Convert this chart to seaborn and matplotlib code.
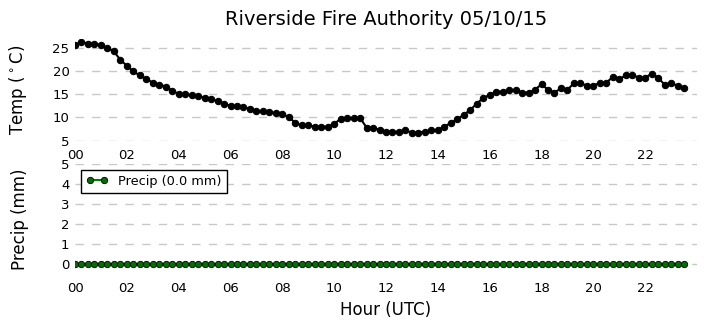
import matplotlib
matplotlib.use("Agg")
import matplotlib.pyplot as plt
import seaborn as sns
import pandas as pd

# ---- data ----
hours = [
    0.00, 0.25, 0.50, 0.75, 1.00, 1.25, 1.50, 1.75, 2.00, 2.25, 2.50, 2.75,
    3.00, 3.25, 3.50, 3.75, 4.00, 4.25, 4.50, 4.75, 5.00, 5.25, 5.50, 5.75,
    6.00, 6.25, 6.50, 6.75, 7.00, 7.25, 7.50, 7.75, 8.00, 8.25, 8.50, 8.75,
    9.00, 9.25, 9.50, 9.75, 10.00, 10.25, 10.50, 10.75, 11.00, 11.25, 11.50, 11.75,
    12.00, 12.25, 12.50, 12.75, 13.00, 13.25, 13.50, 13.75, 14.00, 14.25, 14.50, 14.75,
    15.00, 15.25, 15.50, 15.75, 16.00, 16.25, 16.50, 16.75, 17.00, 17.25, 17.50, 17.75,
    18.00, 18.25, 18.50, 18.75, 19.00, 19.25, 19.50, 19.75, 20.00, 20.25, 20.50, 20.75,
    21.00, 21.25, 21.50, 21.75, 22.00, 22.25, 22.50, 22.75, 23.00, 23.25, 23.50,
]
temp_c = [
    25.7, 26.4, 26.0, 26.0, 25.7, 25.0, 24.3, 22.5, 21.2, 20.0, 19.1, 18.4,
    17.5, 17.1, 16.7, 15.8, 15.1, 15.1, 14.8, 14.6, 14.3, 13.9, 13.6, 13.0,
    12.5, 12.5, 12.3, 11.8, 11.5, 11.3, 11.1, 11.0, 10.7, 10.1, 8.8, 8.3,
    8.3, 8.0, 8.0, 8.0, 8.6, 9.7, 9.9, 9.9, 9.9, 7.8, 7.8, 7.3,
    6.9, 6.9, 6.9, 7.2, 6.7, 6.7, 6.9, 7.2, 7.3, 8.0, 8.8, 9.6,
    10.6, 11.6, 13.0, 14.2, 14.9, 15.6, 15.6, 15.9, 16.0, 15.4, 15.4, 16.0,
    17.2, 16.0, 15.4, 16.3, 16.0, 17.4, 17.4, 16.9, 16.9, 17.5, 17.5, 18.8,
    18.3, 19.1, 19.3, 18.6, 18.6, 19.5, 18.6, 17.1, 17.4, 16.9, 16.4,
]
precip_mm = [
    0.0, 0.0, 0.0, 0.0, 0.0, 0.0, 0.0, 0.0, 0.0, 0.0, 0.0, 0.0,
    0.0, 0.0, 0.0, 0.0, 0.0, 0.0, 0.0, 0.0, 0.0, 0.0, 0.0, 0.0,
    0.0, 0.0, 0.0, 0.0, 0.0, 0.0, 0.0, 0.0, 0.0, 0.0, 0.0, 0.0,
    0.0, 0.0, 0.0, 0.0, 0.0, 0.0, 0.0, 0.0, 0.0, 0.0, 0.0, 0.0,
    0.0, 0.0, 0.0, 0.0, 0.0, 0.0, 0.0, 0.0, 0.0, 0.0, 0.0, 0.0,
    0.0, 0.0, 0.0, 0.0, 0.0, 0.0, 0.0, 0.0, 0.0, 0.0, 0.0, 0.0,
    0.0, 0.0, 0.0, 0.0, 0.0, 0.0, 0.0, 0.0, 0.0, 0.0, 0.0, 0.0,
    0.0, 0.0, 0.0, 0.0, 0.0, 0.0, 0.0, 0.0, 0.0, 0.0, 0.0,
]
xtick_vals = [0, 2, 4, 6, 8, 10, 12, 14, 16, 18, 20, 22]
xtick_labels = ["00", "02", "04", "06", "08", "10", "12", "14", "16", "18", "20", "22"]
temp_ticks = [5, 10, 15, 20, 25]
precip_ticks = [0, 1, 2, 3, 4, 5]
title = "Riverside Fire Authority 05/10/15"
precip_label = "Precip (0.0 mm)"

df = pd.DataFrame({"hour": hours, "temp": temp_c, "precip": precip_mm})

sns.set_style("white")
plt.rcParams["font.family"] = ["DejaVu Sans"]
for k in ("text.color", "axes.labelcolor", "xtick.color", "ytick.color"):
    plt.rcParams[k] = "black"

W, H = 705, 329
fig = plt.figure(figsize=(W / 100, H / 100), dpi=100)

def frac_box(left, top, right, bottom):
    return [left / W, 1 - bottom / H, (right - left) / W, (bottom - top) / H]

ax1 = fig.add_axes(frac_box(75, 39, 697, 140.5))
ax2 = fig.add_axes(frac_box(75, 164, 697, 274))

sns.lineplot(data=df, x="hour", y="temp", ax=ax1, color="black", marker="o",
             markersize=4.6, markeredgecolor="black", linewidth=1.5, zorder=3)
sns.lineplot(data=df, x="hour", y="precip", ax=ax2, color="#008000", marker="o",
             markersize=4.6, markerfacecolor="#006e00", markeredgecolor="black",
             markeredgewidth=0.6, linewidth=1.5, label=precip_label, zorder=3)

grid_kw = dict(color="#c8c8c8", linewidth=1.0, linestyle=(0, (6, 6)))
for ax in (ax1, ax2):
    ax.set_xlim(0, 24)
    ax.set_xticks(xtick_vals)
    ax.set_xticklabels(xtick_labels)
    ax.yaxis.grid(True, **grid_kw)
    ax.xaxis.grid(False)
    ax.set_axisbelow(True)
    for s in ax.spines.values():
        s.set_visible(False)
    ax.tick_params(axis="x", length=0, pad=6, labelsize=9.5, colors="black")
    ax.tick_params(axis="y", length=0, pad=4, labelsize=9.5, colors="black")
    ax.set_xlabel("")

ax1.set_ylim(5, 27)
ax1.set_yticks(temp_ticks)
ax1.set_ylabel("Temp ($^\\circ$C)", fontsize=12, color="black")
ax1.yaxis.set_label_coords((29 - 75) / 622, 0.5)
ax1.set_title(title, fontsize=14, pad=10, color="black")

ax2.set_ylim(-0.5, 5)
ax2.set_yticks(precip_ticks)
ax2.set_ylabel("Precip (mm)", fontsize=12, color="black")
ax2.yaxis.set_label_coords((29 - 75) / 622, 0.5)
ax2.set_xlabel("Hour (UTC)", fontsize=12, color="black")

leg = ax2.legend(loc="upper left", fontsize=9.3, numpoints=2, fancybox=False,
                 frameon=True, handlelength=1.7, borderaxespad=0.45)
leg.get_frame().set_edgecolor("black")
leg.get_frame().set_linewidth(1.0)
leg.get_frame().set_alpha(1.0)
for t in leg.get_texts():
    t.set_color("black")

fig.savefig("out.png", dpi=100)
